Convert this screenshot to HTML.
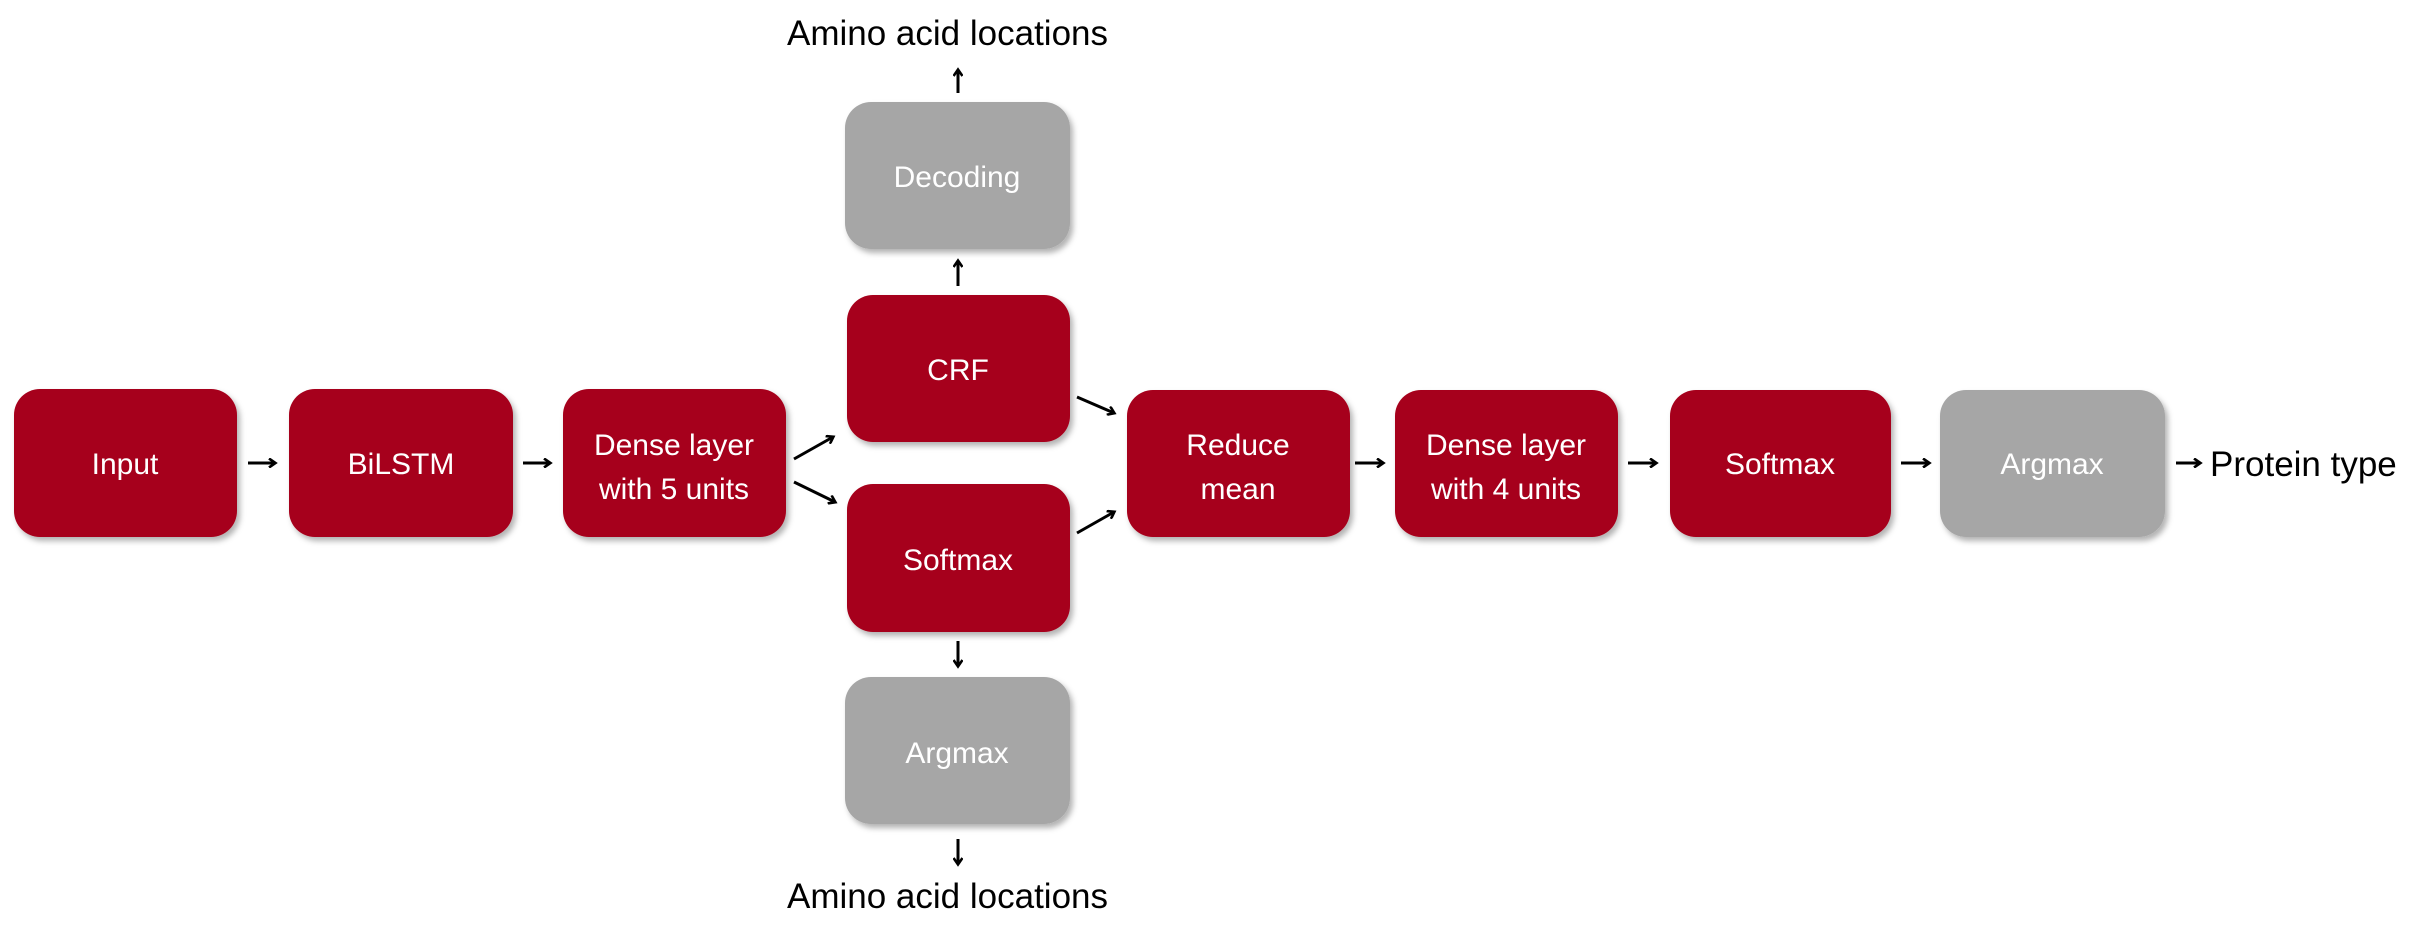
<!DOCTYPE html>
<html><head><meta charset="utf-8"><style>
html,body{margin:0;padding:0;background:#fff;}
svg{display:block;}
</style></head><body>
<svg width="2423" height="925" viewBox="0 0 2423 925" xmlns="http://www.w3.org/2000/svg">
<defs>
<filter id="sh" x="-10%" y="-10%" width="130%" height="130%">
<feDropShadow dx="3" dy="4" stdDeviation="3" flood-color="#000" flood-opacity="0.3"/>
</filter>
<marker id="ah" markerWidth="10" markerHeight="10" refX="7" refY="5" orient="auto" markerUnits="userSpaceOnUse" viewBox="0 0 10 10">
<path d="M1,0.5 L7.5,5 L1,9.5" fill="none" stroke="#000" stroke-width="2.6"/>
</marker>
</defs>
<g filter="url(#sh)">
<rect x="14" y="389" width="223" height="148" rx="26" fill="#a6001a"/>
<rect x="289" y="389" width="224" height="148" rx="26" fill="#a6001a"/>
<rect x="563" y="389" width="223" height="148" rx="26" fill="#a6001a"/>
<rect x="847" y="295" width="223" height="147" rx="26" fill="#a6001a"/>
<rect x="847" y="484" width="223" height="148" rx="26" fill="#a6001a"/>
<rect x="845" y="102" width="225" height="147" rx="26" fill="#a6a6a6"/>
<rect x="845" y="677" width="225" height="147" rx="26" fill="#a6a6a6"/>
<rect x="1127" y="390" width="223" height="147" rx="26" fill="#a6001a"/>
<rect x="1395" y="390" width="223" height="147" rx="26" fill="#a6001a"/>
<rect x="1670" y="390" width="221" height="147" rx="26" fill="#a6001a"/>
<rect x="1940" y="390" width="225" height="147" rx="26" fill="#a6a6a6"/>
</g>
<g font-family="'Liberation Sans', sans-serif" font-size="30" fill="#fff" text-anchor="middle">
<text x="125" y="474">Input</text>
<text x="401" y="474">BiLSTM</text>
<text x="674" y="455">Dense layer</text>
<text x="674" y="499">with 5 units</text>
<text x="958" y="380">CRF</text>
<text x="958" y="570">Softmax</text>
<text x="957" y="187">Decoding</text>
<text x="957" y="763">Argmax</text>
<text x="1238" y="455">Reduce</text>
<text x="1238" y="499">mean</text>
<text x="1506" y="455">Dense layer</text>
<text x="1506" y="499">with 4 units</text>
<text x="1780" y="474">Softmax</text>
<text x="2052" y="474">Argmax</text>
</g>
<g font-family="'Liberation Sans', sans-serif" font-size="35" fill="#000">
<text x="787" y="45">Amino acid locations</text>
<text x="787" y="908">Amino acid locations</text>
<text x="2210" y="476">Protein type</text>
</g>
<g stroke="#000" stroke-width="3" marker-end="url(#ah)">
<line x1="248" y1="463" x2="275" y2="463"/>
<line x1="523" y1="463" x2="550" y2="463"/>
<line x1="1355" y1="463" x2="1383" y2="463"/>
<line x1="1628" y1="463" x2="1656" y2="463"/>
<line x1="1901" y1="463" x2="1929" y2="463"/>
<line x1="2176" y1="463" x2="2200" y2="463"/>
<line x1="794" y1="459" x2="833" y2="437"/>
<line x1="794" y1="482" x2="835" y2="502"/>
<line x1="1077" y1="397" x2="1114" y2="413"/>
<line x1="1077" y1="533" x2="1114" y2="512"/>
<line x1="958" y1="93" x2="958" y2="70"/>
<line x1="958" y1="286" x2="958" y2="261"/>
<line x1="958" y1="641" x2="958" y2="666"/>
<line x1="958" y1="839" x2="958" y2="864"/>
</g>
</svg>
</body></html>
